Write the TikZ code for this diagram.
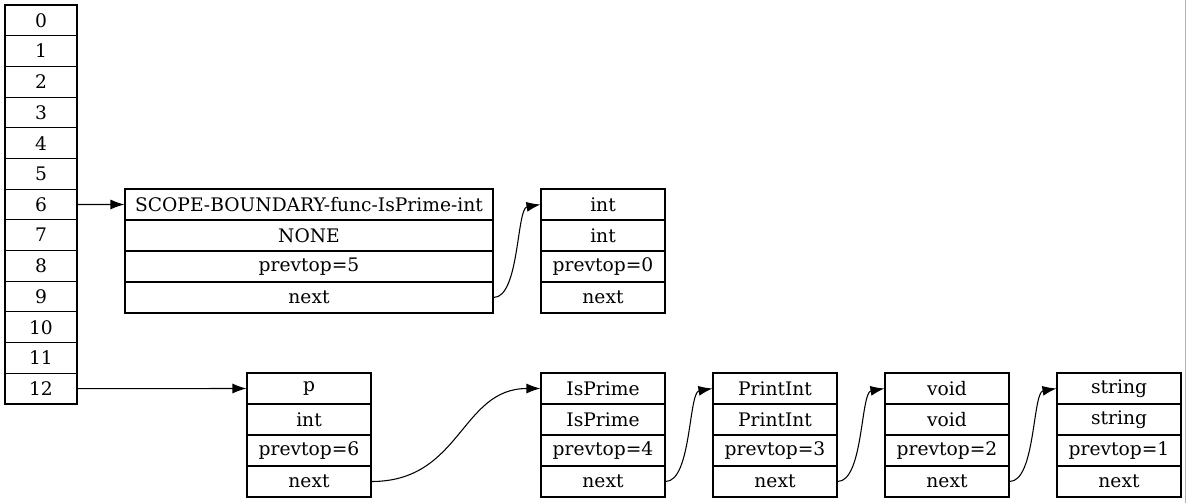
\documentclass[tikz,border=0pt]{standalone}
\usepackage{fontspec}
\setmainfont{DejaVu Serif}
\usetikzlibrary{arrows.meta}
\begin{document}
\begin{tikzpicture}[x=0.75pt,y=-0.75pt,
  box/.style={draw, line width=0.8pt, inner sep=0pt, minimum height=23.25pt,
    font=\fontsize{14}{16}\selectfont},
  stackcell/.style={box, minimum width=54pt, minimum height=23.02pt},
  narrow/.style={box, minimum width=93pt},
  wide/.style={box, minimum width=276pt},
  link/.style={line width=0.8pt, -{Latex[length=10.5pt,width=7.5pt]}}]
\useasboundingbox (0,0) rectangle (1187,503);
\draw[gray!60, line width=0.8pt] (1185.5,0) -- (1185.5,503);

% symbol stack
\foreach \i in {0,...,12}
  \node[stackcell] (s\i) at (41, 20.35+30.69*\i) {\i};

% record rows: a = name, b = type, c = prevtop, d = next
\node[wide] (r1a) at (309,204.5) {SCOPE-BOUNDARY-func-IsPrime-int};
\node[wide] (r1b) at (309,235.5) {NONE};
\node[wide] (r1c) at (309,266.5) {prevtop=5};
\node[wide] (r1d) at (309,297.5) {next};

\node[narrow] (r2a) at (603,204.5) {int};
\node[narrow] (r2b) at (603,235.5) {int};
\node[narrow] (r2c) at (603,266.5) {prevtop=0};
\node[narrow] (r2d) at (603,297.5) {next};

\node[narrow] (pa) at (309,388.5) {p};
\node[narrow] (pb) at (309,419.5) {int};
\node[narrow] (pc) at (309,450.5) {prevtop=6};
\node[narrow] (pd) at (309,481.5) {next};

\node[narrow] (ia) at (603,388.5) {IsPrime};
\node[narrow] (ib) at (603,419.5) {IsPrime};
\node[narrow] (ic) at (603,450.5) {prevtop=4};
\node[narrow] (id) at (603,481.5) {next};

\node[narrow] (ta) at (775,388.5) {PrintInt};
\node[narrow] (tb) at (775,419.5) {PrintInt};
\node[narrow] (tc) at (775,450.5) {prevtop=3};
\node[narrow] (td) at (775,481.5) {next};

\node[narrow] (va) at (947,388.5) {void};
\node[narrow] (vb) at (947,419.5) {void};
\node[narrow] (vc) at (947,450.5) {prevtop=2};
\node[narrow] (vd) at (947,481.5) {next};

\node[narrow] (ga) at (1119,388.5) {string};
\node[narrow] (gb) at (1119,419.5) {string};
\node[narrow] (gc) at (1119,450.5) {prevtop=1};
\node[narrow] (gd) at (1119,481.5) {next};

% links
\draw[link] (s6.east) -- (r1a.west);
\draw[link] (s12.east) -- (pa.west);
\draw[link] (r1d.east) .. controls +(26,0) and +(-24,4) .. (r2a.west);
\draw[link] (pd.east) .. controls +(90,0) and +(-80,0) .. (ia.west);
\draw[link] (id.east) .. controls +(26,0) and +(-24,4) .. (ta.west);
\draw[link] (td.east) .. controls +(26,0) and +(-24,4) .. (va.west);
\draw[link] (vd.east) .. controls +(26,0) and +(-24,4) .. (ga.west);
\end{tikzpicture}
\end{document}
